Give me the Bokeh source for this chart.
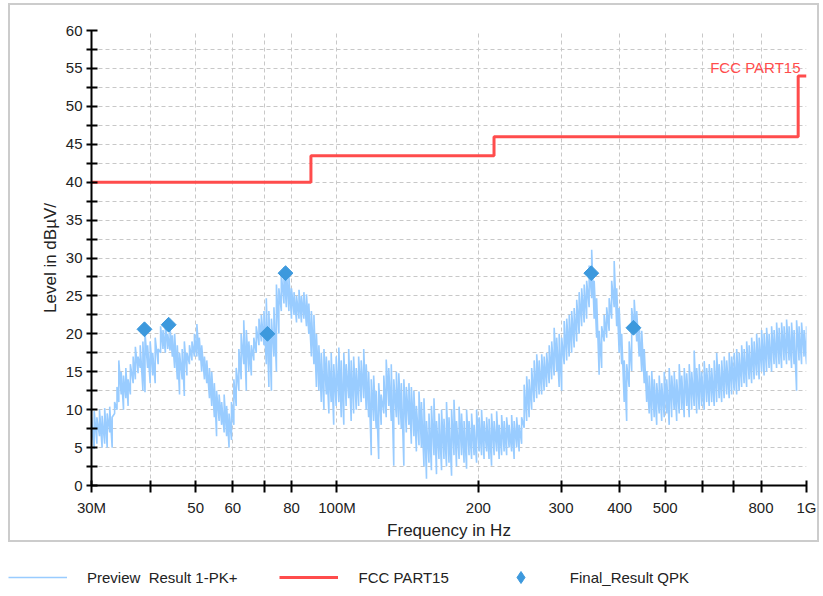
import numpy as np
from bokeh.plotting import figure
from bokeh.layouts import column
from bokeh.models import FixedTicker, Legend, LegendItem, Label
from bokeh.embed import file_html
from bokeh.resources import INLINE

# ---------------- data (frequency in MHz, level in dBuV/m) ----------------
preview_freq = [
    30.0, 30.4, 30.8, 31.2, 31.6, 32.0, 32.4, 32.8, 33.2, 33.6, 34.0, 34.3, 34.7, 35.1, 35.5, 35.9,
    36.3, 36.8, 37.2, 37.7, 38.1, 38.6, 39.0, 39.5, 40.0, 40.5, 41.0, 41.6, 42.1, 42.6, 43.1, 43.6,
    44.1, 44.6, 45.1, 45.7, 46.2, 46.8, 47.3, 47.9, 48.5, 49.1, 49.7, 50.3, 50.9, 51.5, 52.2, 52.8,
    53.5, 54.1, 54.8, 55.4, 56.1, 56.8, 57.5, 58.2, 58.9, 59.6, 60.3, 61.0, 61.8, 62.5, 63.3, 64.1,
    64.9, 65.7, 66.5, 67.3, 68.2, 69.0, 69.9, 70.7, 71.6, 72.5, 73.4, 74.3, 75.2, 76.1, 77.1, 78.0,
    79.0, 80.0, 81.0, 82.0, 83.0, 84.0, 85.0, 86.1, 87.1, 88.2, 89.3, 90.4, 91.5, 92.6, 93.8, 94.9,
    96.1, 97.2, 98.4, 99.6, 100.9, 102.1, 103.4, 104.6, 105.9, 107.2, 108.5, 109.9, 111.2, 112.6,
    114.0, 115.4, 116.8, 118.3, 119.7, 121.2, 122.7, 124.2, 125.8, 127.3, 128.9, 130.5, 132.1,
    133.8, 135.4, 137.1, 138.8, 140.5, 142.3, 144.0, 145.8, 147.6, 149.5, 151.3, 153.2, 155.1,
    157.0, 158.9, 160.9, 162.9, 164.9, 167.0, 169.0, 171.1, 173.2, 175.4, 177.5, 179.7, 182.0,
    184.2, 186.5, 188.8, 191.1, 193.5, 195.9, 198.3, 200.8, 203.2, 205.7, 208.3, 210.8, 213.4,
    216.1, 218.8, 221.5, 224.2, 227.0, 229.8, 232.6, 235.5, 238.4, 241.4, 244.3, 247.3, 250.4,
    253.5, 256.6, 259.8, 263.0, 266.3, 269.5, 272.9, 276.2, 279.6, 283.1, 286.6, 290.1, 293.7,
    297.3, 301.0, 304.7, 308.5, 312.3, 316.1, 320.0, 324.0, 327.9, 332.0, 336.1, 340.2, 344.4,
    348.7, 353.0, 357.3, 361.7, 366.2, 370.7, 375.3, 379.9, 384.6, 389.4, 394.2, 399.0, 404.0,
    409.0, 414.0, 419.1, 424.3, 429.6, 434.9, 440.2, 445.7, 451.2, 456.7, 462.4, 468.1, 473.9,
    479.7, 485.6, 491.6, 497.7, 503.8, 510.0, 516.3, 522.7, 529.1, 535.7, 542.3, 549.0, 555.7,
    562.6, 569.5, 576.5, 583.6, 590.8, 598.1, 605.5, 612.9, 620.5, 628.1, 635.9, 643.7, 651.6,
    659.7, 667.8, 676.0, 684.4, 692.8, 701.3, 710.0, 718.7, 727.6, 736.5, 745.6, 754.8, 764.1,
    773.5, 783.0, 792.7, 802.4, 812.3, 822.3, 832.4, 842.7, 853.1, 863.6, 874.2, 885.0, 895.9,
    906.9, 918.1, 929.4, 940.9, 952.5, 964.2, 976.1, 988.1, 1000.0]
preview_hi = [
    9.0, 9.8, 9.0, 10.0, 9.2, 10.2, 9.5, 10.4, 9.0, 11.0, 13.0, 16.5, 15.0, 14.5, 15.5, 14.0,
    16.0, 17.0, 18.3, 17.0, 18.5, 19.0, 20.2, 18.5, 19.0, 17.5, 19.5, 18.0, 21.0, 20.5, 21.5, 20.0,
    20.8, 19.8, 20.0, 18.5, 17.5, 18.0, 19.0, 17.5, 18.5, 19.0, 20.0, 21.3, 19.5, 18.5, 17.0, 16.5,
    15.5, 15.0, 13.5, 12.5, 12.0, 11.0, 12.0, 10.5, 9.5, 11.0, 14.0, 15.5, 18.0, 20.0, 21.8, 20.5,
    19.0, 18.5, 19.5, 21.0, 22.0, 22.5, 23.0, 24.7, 23.0, 22.0, 23.5, 26.5, 26.0, 28.0, 28.8, 28.5,
    27.5, 26.0, 25.5, 25.0, 25.8, 25.0, 25.5, 25.2, 24.0, 23.0, 22.5, 20.0, 18.5, 17.5, 18.0, 17.0,
    16.5, 17.5, 16.0, 17.0, 18.2, 16.5, 17.5, 16.0, 18.0, 16.5, 17.0, 15.5, 17.0, 16.5,
    18.0, 16.0, 15.0, 14.0, 14.5, 12.5, 13.5, 12.0, 14.5, 16.6, 15.5, 16.0, 14.0,
    15.0, 14.8, 13.5, 14.0, 13.0, 13.5, 13.0, 12.5, 10.5, 12.4, 11.0, 11.5, 8.5,
    9.5, 10.5, 11.5, 8.5, 9.5, 10.0, 8.8, 11.0, 9.0, 10.0, 11.3, 8.5, 10.4,
    9.5, 8.5, 10.0, 8.5, 9.5, 8.0, 10.0, 9.0, 10.0, 8.5, 9.0, 8.8, 9.5,
    8.5, 9.8, 8.0, 9.3, 8.5, 9.0, 8.0, 9.3, 8.5, 9.0, 8.0, 9.0, 13.3,
    14.4, 14.0, 15.5, 16.5, 17.3, 16.5, 17.3, 17.0, 17.5, 18.5, 19.0, 20.8, 19.5,
    20.0, 19.5, 21.7, 22.0, 22.5, 23.0, 23.4, 24.5, 25.5, 26.0, 26.5, 27.0, 29.0,
    31.1, 27.0, 24.7, 20.4, 21.0, 22.5, 23.5, 24.7, 27.0, 29.6, 26.0, 23.4, 20.0,
    16.5, 16.0, 19.0, 23.4, 24.5, 23.0, 21.0, 20.4, 18.0, 15.1, 14.5, 15.1, 14.0,
    13.5, 14.5, 13.5, 15.0, 14.0, 15.5, 14.5, 15.0, 14.0, 16.0, 14.5, 15.5, 14.8,
    16.0, 15.0, 17.8, 15.5, 16.0, 15.0, 16.4, 15.5, 16.0, 15.5, 16.5, 17.5, 16.0,
    16.5, 17.0, 16.5, 17.5, 17.0, 17.5, 18.0, 17.5, 18.5, 18.0, 19.0, 18.5, 19.5,
    19.0, 20.0, 19.5, 20.5, 20.0, 20.8, 20.0, 21.0, 20.5, 21.5, 20.8, 21.5, 21.0,
    21.9, 21.0, 21.5, 20.5, 21.8, 21.0, 21.5, 20.5, 21.0]
preview_lo = [
    6.0, 4.8, 5.5, 6.5, 5.0, 5.5, 5.0, 7.0, 5.0, 9.5, 10.0, 11.0, 12.0, 10.0, 11.5, 10.5,
    12.0, 13.5, 14.0, 14.8, 15.5, 12.5, 12.3, 15.5, 13.5, 14.5, 13.5, 16.0, 17.5, 18.0, 17.5, 18.0,
    17.8, 17.0, 15.5, 14.0, 12.0, 14.0, 11.8, 14.5, 16.0, 16.5, 17.0, 17.0, 16.5, 15.0, 14.0, 13.5,
    11.5, 10.5, 9.0, 6.5, 8.5, 8.0, 7.0, 6.5, 5.0, 6.0, 8.0, 10.5, 12.5, 14.0, 16.0, 12.5,
    15.0, 14.5, 16.5, 17.5, 18.5, 19.0, 18.5, 16.0, 13.0, 12.5, 17.0, 15.0, 20.0, 23.0, 24.0, 23.5,
    23.0, 22.0, 22.5, 21.5, 22.0, 21.5, 22.0, 21.0, 20.0, 17.0, 16.0, 13.0, 12.5, 11.0, 10.0, 12.0,
    9.5, 11.0, 8.0, 10.5, 11.0, 9.0, 8.0, 10.5, 11.5, 8.5, 9.5, 10.0, 10.5, 11.0,
    11.5, 10.0, 9.0, 4.0, 8.5, 7.5, 3.5, 8.0, 9.5, 9.0, 10.5, 8.5, 2.6,
    9.0, 8.0, 7.5, 2.6, 7.0, 8.0, 5.5, 6.5, 4.5, 5.3, 5.0, 2.5, 0.9,
    3.0, 2.0, 4.0, 1.5, 3.5, 2.0, 3.5, 2.5, 3.0, 1.3, 4.0, 2.5, 3.5,
    4.0, 3.0, 2.2, 4.0, 3.5, 4.0, 3.0, 4.5, 4.0, 3.5, 4.5, 3.5, 2.6,
    4.0, 4.5, 3.5, 4.0, 4.5, 4.0, 5.0, 4.5, 3.5, 5.0, 4.5, 5.5, 7.6,
    8.5, 9.0, 10.0, 11.0, 11.5, 12.0, 12.0, 12.5, 13.0, 13.5, 14.0, 14.5, 15.0,
    13.0, 12.5, 16.0, 16.5, 17.0, 17.5, 18.2, 19.0, 20.0, 21.0, 21.5, 22.0, 23.5,
    24.7, 22.0, 19.5, 14.6, 15.5, 19.0, 19.5, 20.4, 22.0, 23.5, 21.0, 17.5, 16.0,
    11.0, 8.5, 13.0, 15.1, 20.4, 19.0, 17.0, 15.0, 13.5, 11.0, 9.5, 8.5, 9.0,
    8.0, 9.5, 8.5, 9.0, 9.5, 8.0, 9.0, 10.0, 8.5, 9.5, 10.0, 9.0, 10.5,
    9.0, 10.0, 10.5, 9.5, 10.0, 10.5, 10.0, 11.0, 10.5, 11.0, 10.5, 11.0, 11.5,
    11.0, 11.5, 12.0, 11.5, 12.0, 12.5, 12.0, 12.5, 13.0, 13.5, 13.0, 14.0, 13.5,
    14.0, 14.5, 14.0, 15.0, 14.5, 15.0, 15.5, 15.0, 16.0, 15.5, 16.0, 15.5, 16.5,
    16.0, 16.5, 15.5, 16.0, 12.5, 16.5, 16.0, 17.0, 16.0]

limit_freq = [30, 88, 88, 216, 216, 960, 960, 1000]
limit_level = [40, 40, 43.5, 43.5, 46, 46, 54, 54]
limit_name = "FCC PART15"

qpk_freq = [38.9, 43.8, 71.1, 77.7, 348.0, 428.0]
qpk_level = [20.6, 21.2, 20.0, 28.0, 28.0, 20.8]

x_ticks = [30, 40, 50, 60, 70, 80, 100, 200, 300, 400, 500, 600, 700, 800, 1000]
x_tick_labels = ["30M", "", "50", "60", "", "80", "100M", "200", "300", "400", "500",
                 "", "", "800", "1G"]
y_ticks = list(range(0, 61, 5))
y_minor = [v + 2.5 for v in range(0, 60, 5)]

legend_labels = ["Preview  Result 1-PK+", "FCC PART15", "Final_Result QPK"]

FONT = "Liberation Sans"
C_PREV = "#99ccff"
C_LIM = "#ff4c4c"
C_QPK = "#3d99dd"

# ---------------- main chart ----------------
p = figure(width=811, height=539, x_axis_type="log", x_range=(30, 1000), y_range=(0, 60),
           output_backend="svg", toolbar_location=None,
           min_border_left=81, min_border_right=15, min_border_top=25, min_border_bottom=59,
           background_fill_color="white", border_fill_color="white",
           styles={"border": "2px solid #cccccc", "margin-left": "8px", "margin-top": "3px"})
p.outline_line_color = None

zx, zy = [], []
for f, lo, hi in zip(preview_freq, preview_lo, preview_hi):
    zx += [f, f]
    zy += [lo, hi]
p.line(zx, zy, line_color=C_PREV, line_width=1.6)

p.line(limit_freq, limit_level, line_color=C_LIM, line_width=3)
p.scatter(qpk_freq, qpk_level, marker="square", angle=np.pi / 4, size=10.5,
          fill_color=C_QPK, line_color=C_QPK)

p.add_layout(Label(x=limit_freq[-1], y=limit_level[-1], x_offset=-6, y_offset=0,
                   text=limit_name, text_align="right", text_baseline="bottom",
                   text_color=C_LIM, text_font=FONT, text_font_size="15px"))

p.xaxis.ticker = FixedTicker(ticks=x_ticks)
p.xaxis.major_label_overrides = {t: l for t, l in zip(x_ticks, x_tick_labels)}
p.yaxis.ticker = FixedTicker(ticks=y_ticks, minor_ticks=y_minor)
for ax in (p.xaxis, p.yaxis):
    ax.axis_line_color = "black"
    ax.axis_line_width = 2
    ax.major_tick_line_color = "black"
    ax.major_tick_line_width = 2
    ax.major_label_text_font = FONT
    ax.major_label_text_font_size = "15px"
    ax.major_label_text_color = "#222222"
    ax.axis_label_text_font = FONT
    ax.axis_label_text_font_size = "17px"
    ax.axis_label_text_font_style = "normal"
    ax.axis_label_text_color = "#222222"
p.xaxis.major_tick_in = 5
p.xaxis.major_tick_out = 7
p.xaxis.minor_tick_line_color = None
p.xaxis.major_label_standoff = 6
p.xaxis.axis_label = "Frequency in Hz"
p.xaxis.axis_label_standoff = 2
p.yaxis.major_tick_in = 6
p.yaxis.major_tick_out = 5
p.yaxis.minor_tick_in = 6
p.yaxis.minor_tick_out = 5
p.yaxis.minor_tick_line_color = "black"
p.yaxis.minor_tick_line_width = 2
p.yaxis.major_label_standoff = 4
p.yaxis.axis_label = "Level in dBµV/"
p.yaxis.axis_label_standoff = 3

p.xgrid.grid_line_color = "#c8c8c8"
p.xgrid.grid_line_dash = "4 3"
p.ygrid.grid_line_color = "#c8c8c8"
p.ygrid.grid_line_dash = "4 3"
p.ygrid.minor_grid_line_color = "#c8c8c8"
p.ygrid.minor_grid_line_dash = "4 3"

# ---------------- legend strip (legend only; proxies carry no visible data) ----------------
lg = figure(frame_width=823, frame_height=50, x_range=(0, 1), y_range=(0, 1),
            x_axis_location=None, y_axis_location=None,
            output_backend="svg", toolbar_location=None,
            min_border=0, min_border_left=0, min_border_right=0,
            min_border_top=0, min_border_bottom=0)
lg.outline_line_color = None
lg.grid.visible = False
k1 = lg.line(x=[np.nan], y=[np.nan], line_color=C_PREV, line_width=1.6)
k2 = lg.line(x=[np.nan], y=[np.nan], line_color=C_LIM, line_width=3)
k3 = lg.scatter(x=[np.nan], y=[np.nan], marker="diamond", size=10.5,
                fill_color=C_QPK, line_color=C_QPK)
legend = Legend(items=[LegendItem(label=legend_labels[0], renderers=[k1]),
                       LegendItem(label=legend_labels[1], renderers=[k2]),
                       LegendItem(label=legend_labels[2], renderers=[k3])],
                orientation="horizontal", location=(8, 0),
                glyph_width=59, glyph_height=30, label_height=16, label_standoff=20,
                spacing=42, padding=0, margin=0,
                border_line_color=None, background_fill_alpha=0,
                label_text_font=FONT, label_text_font_size="15px", label_text_color="#222222")
lg.add_layout(legend, "center")

layout = column(p, lg, spacing=0)
open("out.html", "w").write(file_html(layout, INLINE))
